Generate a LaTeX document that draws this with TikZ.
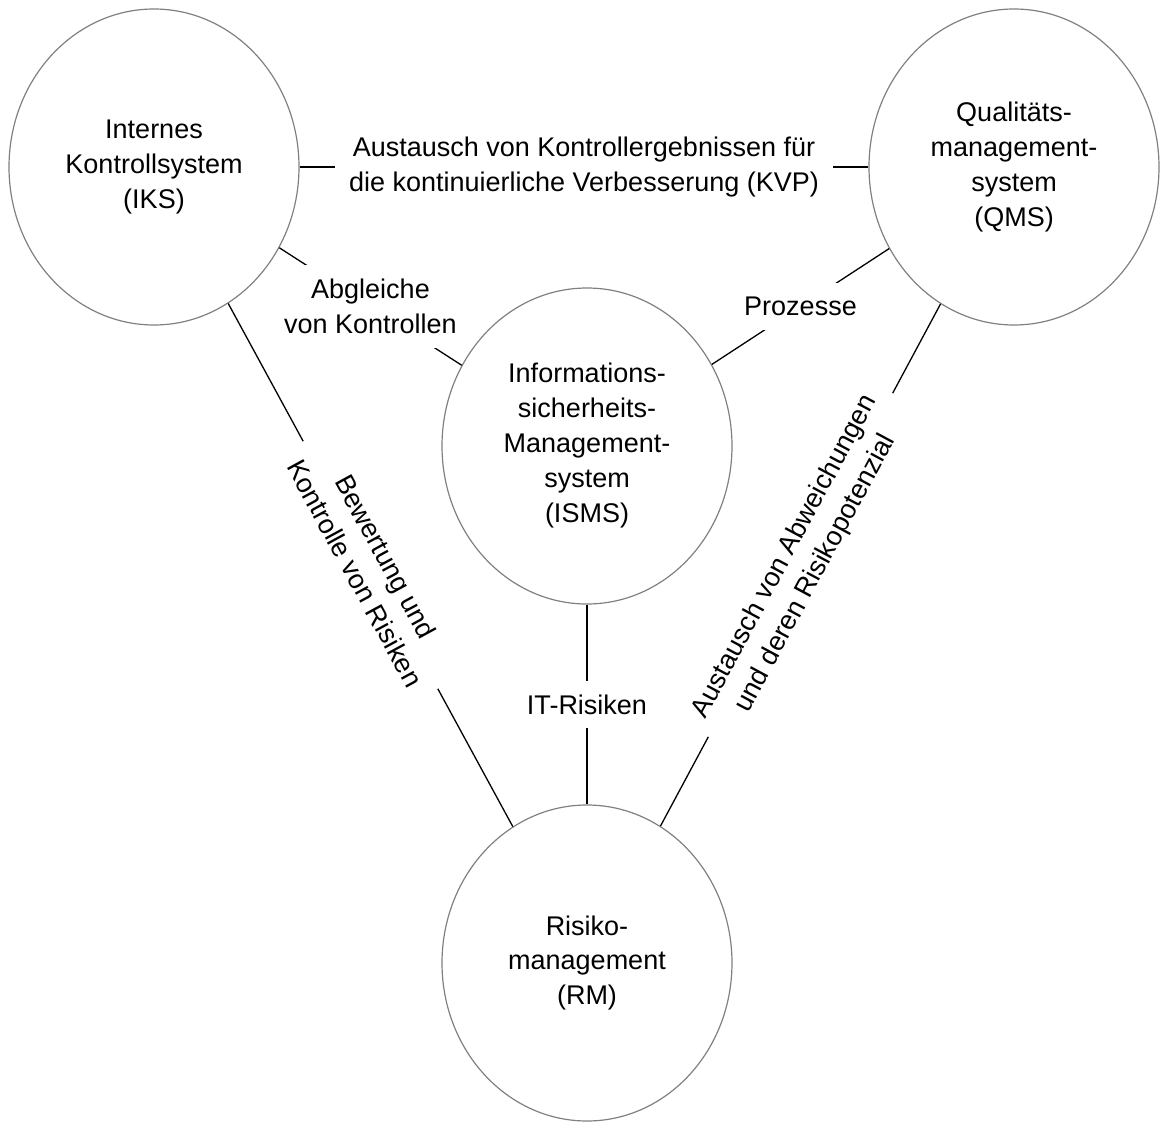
\documentclass[tikz,border=0pt]{standalone}
\usepackage{fontspec}
\setmainfont{Liberation Sans}
\usetikzlibrary{shapes.geometric}
\begin{document}
\begin{tikzpicture}[x=1pt,y=-1pt]
\tikzstyle{system}=[draw=gray,line width=1.2pt,ellipse,minimum width=290pt,minimum height=316pt,inner sep=0pt,align=center,font=\fontsize{27}{35}\selectfont]
\tikzstyle{line}=[draw,line width=1.3pt]
\tikzstyle{edgetext}=[fill=white,inner sep=14pt,align=center,font=\fontsize{27}{35}\selectfont]
\useasboundingbox(0,0)rectangle(1160,1122);
\node[system](iks)at(154,167){Internes\\Kontrollsystem\\(IKS)};
\node[system](qms)at(1014,167){Qualitäts-\\management-\\system\\(QMS)};
\node[system](isms)at(587,446){Informations-\\sicherheits-\\Management-\\system\\(ISMS)};
\node[system](rm)at(587,963){Risiko-\\management\\(RM)};
\path[line](iks)--node[edgetext]{Austausch von Kontrollergebnissen für\\die kontinuierliche Verbesserung (KVP)}(qms);
\path[line](iks)--node[edgetext]{Abgleiche\\von Kontrollen}(isms);
\path[line](isms)--node[edgetext]{Prozesse}(qms);
\path[line](isms)--node[edgetext]{IT-Risiken}(rm);
\path[line](iks)--node[edgetext,sloped]{Bewertung und\\Kontrolle von Risiken}(rm);
\path[line](qms)--node[edgetext,sloped]{Austausch von Abweichungen\\und deren Risikopotenzial}(rm);
\end{tikzpicture}
\end{document}
